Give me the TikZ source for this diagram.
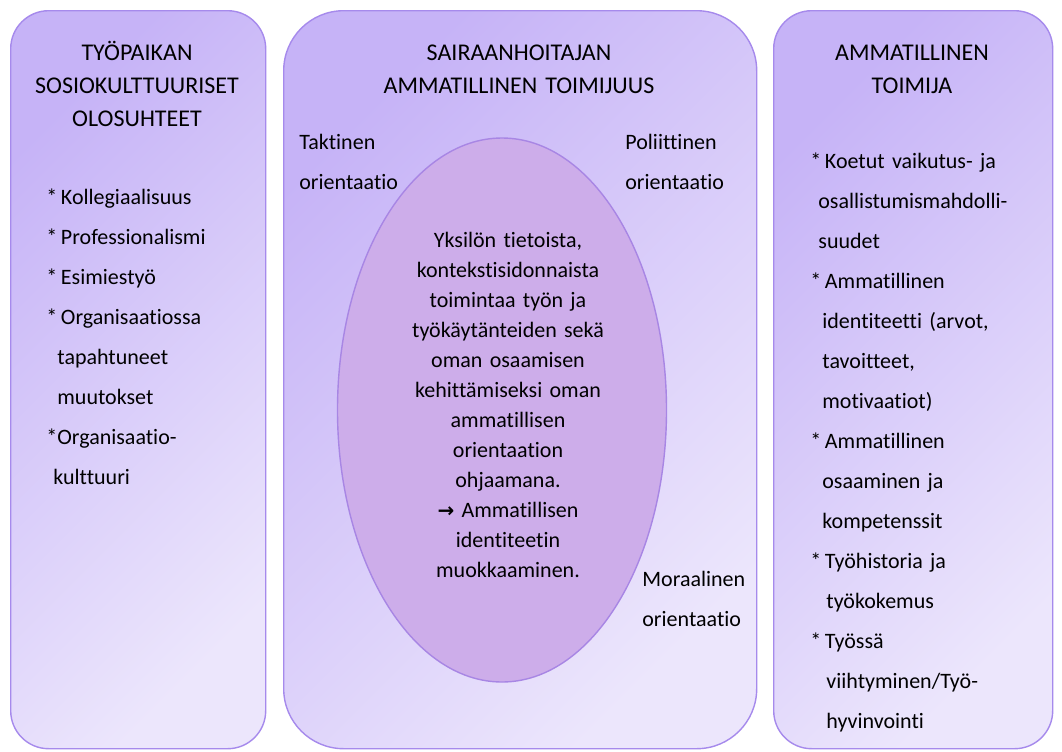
\documentclass[tikz,border=0pt]{standalone}
\usepackage{fontspec}
\setmainfont{Carlito}[Ligatures=NoCommon]
\newfontfamily\arrowfont{DejaVu Sans}
\usetikzlibrary{shapes.geometric, positioning}

\definecolor{paneltop}{RGB}{198,179,247}
\definecolor{panelbottom}{RGB}{236,230,252}
\definecolor{paneledge}{RGB}{166,138,236}
\definecolor{ovalfill}{RGB}{205,173,234}
\definecolor{ovaledge}{RGB}{168,134,228}

\newcommand{\bul}{{*}\hspace{1.8pt}}

\begin{document}
\begin{tikzpicture}[x=0.5pt, y=-0.5pt, text=black,
        panel/.style={draw=paneledge, line width=0.7pt, rectangle, top color=paneltop, bottom color=panelbottom, shading angle=45, minimum height=369pt, anchor=north west},
        oval/.style={draw=ovaledge, line width=0.7pt, ellipse, fill=ovalfill, minimum width=164.5pt, minimum height=272pt},
        heading/.style={align=center, font=\fontsize{12}{16.5}\selectfont, inner sep=0pt, anchor=base},
        items/.style={align=left, font=\fontsize{11}{20}\selectfont, inner sep=0pt, anchor=base west},
        core/.style={align=center, font=\fontsize{11}{15}\selectfont, inner sep=0pt, anchor=base}]
        % Tausta
        \fill[white] (0,0) rectangle (1062,751);
        \useasboundingbox (0,0) rectangle (1062,751);

        % Laatikot
        \node[panel, rounded corners=19pt, minimum width=127.5pt] (work) at (10,10) {};
        \node[panel, rounded corners=30pt, minimum width=236.5pt] (agency) at (283,10) {};
        \node[panel, rounded corners=19pt, minimum width=139.5pt] (actor) at (773,10) {};
        \node[oval] (core) at (502,410) {};

        % Otsikot
        \node[heading, text width=125pt] (worktitle) at (137,60) {TYÖPAIKAN\\SOSIOKULTTUURISET\\OLOSUHTEET};
        \node[heading, text width=200pt] (agencytitle) at (519,60) {SAIRAANHOITAJAN\\AMMATILLINEN TOIMIJUUS};
        \node[heading, text width=130pt] (actortitle) at (912,60) {AMMATILLINEN\\TOIMIJA};

        % Luettelot
        \node[items, text width=105pt] (worklist) at (46,204) {%
            \bul Kollegiaalisuus\\
            \bul Professionalismi\\
            \bul Esimiestyö\\
            \bul Organisaatiossa\\
            \hspace*{5.5pt}tapahtuneet\\
            \hspace*{5.5pt}muutokset\\
            {*}Organisaatio-\\
            \hspace*{3.5pt}kulttuuri};
        \node[items, text width=118pt] (actorlist) at (810,168) {%
            \bul Koetut vaikutus- ja\\
            \hspace*{4pt}osallistumismahdolli-\\
            \hspace*{4pt}suudet\\
            \bul Ammatillinen\\
            \hspace*{6pt}identiteetti (arvot,\\
            \hspace*{6pt}tavoitteet,\\
            \hspace*{6pt}motivaatiot)\\
            \bul Ammatillinen\\
            \hspace*{6pt}osaaminen ja\\
            \hspace*{6pt}kompetenssit\\
            \bul Työhistoria ja\\
            \hspace*{8pt}työkokemus\\
            \bul Työssä\\
            \hspace*{8pt}viihtyminen/Työ-\\
            \hspace*{8pt}hyvinvointi};

        % Orientaatiot
        \node[items, text width=55pt] (tactical) at (299,149) {Taktinen\\orientaatio};
        \node[items, text width=55pt] (political) at (625,149) {Poliittinen\\orientaatio};
        \node[items, text width=55pt] (moral) at (642,586) {Moraalinen\\orientaatio};

        % Ellipsin teksti
        \node[core, text width=105pt] (coretext) at (508,247) {Yksilön tietoista,\\
            kontekstisidonnaista\\
            toimintaa työn ja\\
            työkäytänteiden sekä\\
            oman osaamisen\\
            kehittämiseksi oman\\
            ammatillisen\\
            orientaation\\
            ohjaamana.\\
            {\arrowfont\bfseries\fontsize{10}{15}\selectfont →} Ammatillisen\\
            identiteetin\\
            muokkaaminen.};
    \end{tikzpicture}
\end{document}
